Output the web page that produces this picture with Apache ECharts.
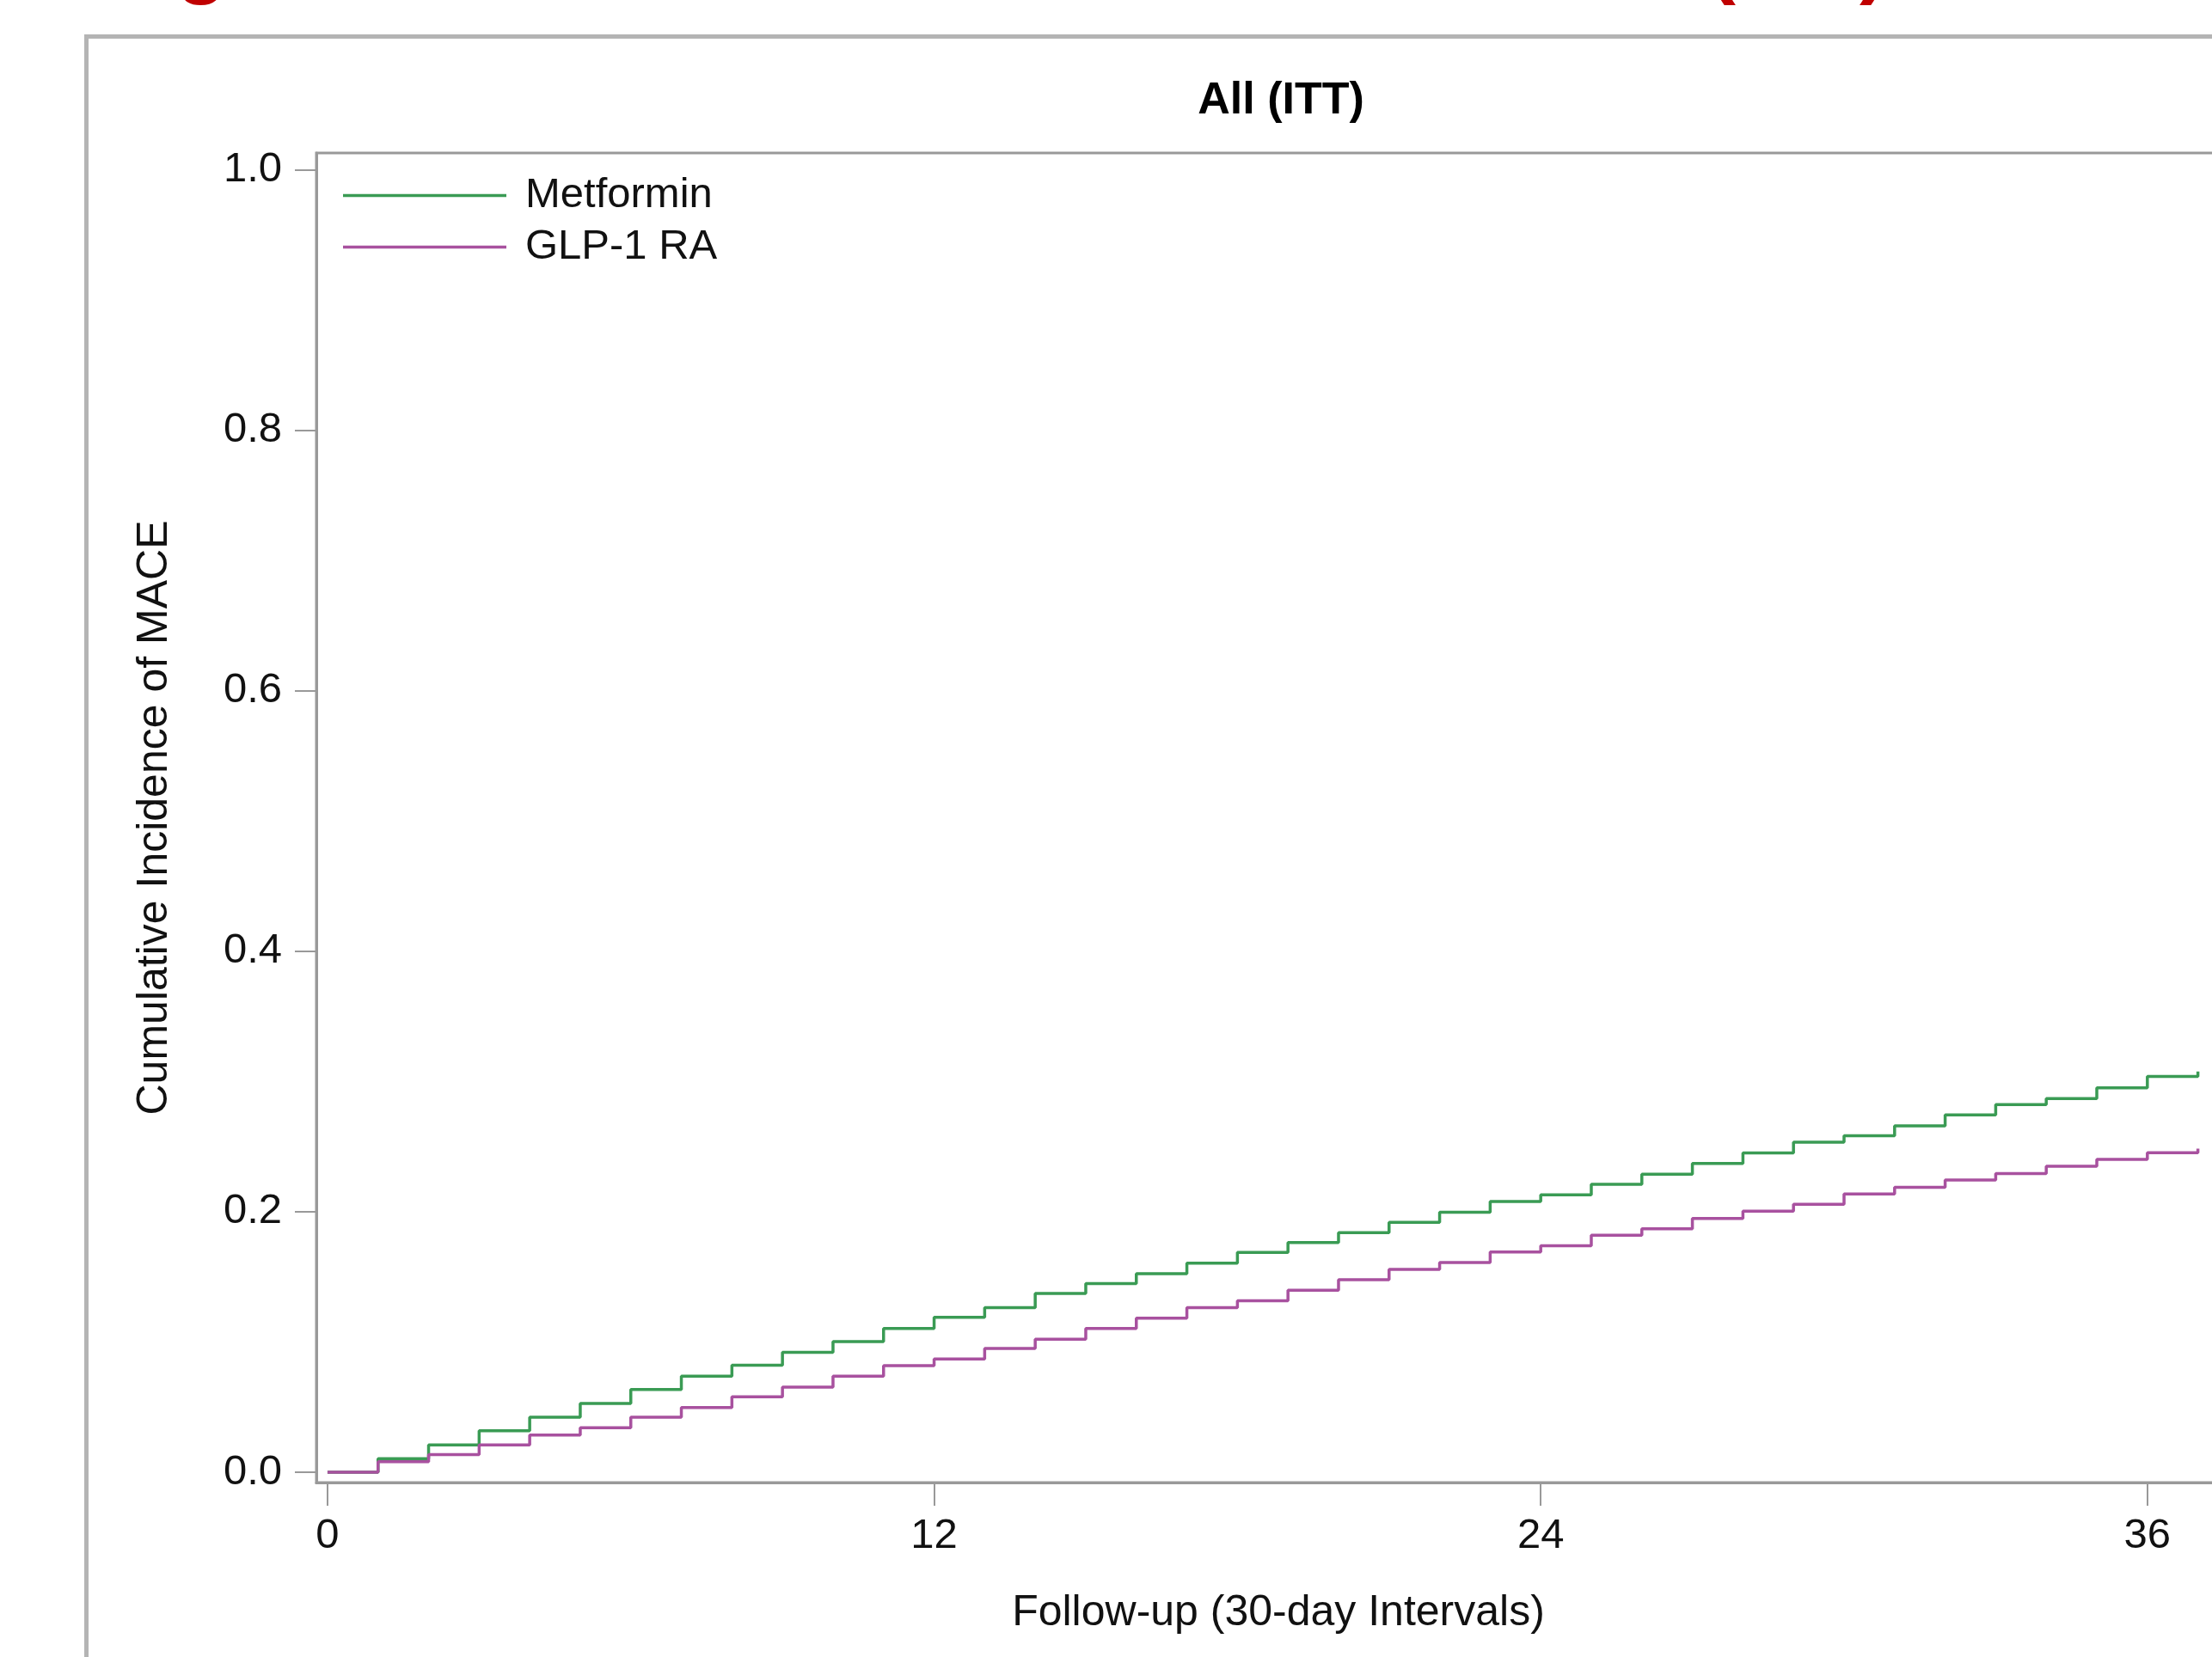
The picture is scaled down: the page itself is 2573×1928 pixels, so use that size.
<!DOCTYPE html>
<html>
<head>
<meta charset="utf-8">
<script src="https://cdn.jsdelivr.net/npm/echarts@6/dist/echarts.min.js"></script>
<style>
html,body{margin:0;padding:0;background:#fff;overflow:hidden;width:2573px;height:1928px;}
#c{width:2900px;height:1928px;}
</style>
</head>
<body>
<div id="c"></div>
<script>
// ---- data ----
const months = [0,1,2,3,4,5,6,7,8,9,10,11,12,13,14,15,16,17,18,19,20,21,22,23,24,25,26,27,28,29,30,31,32,33,34,35,36,37];
const metformin = [0,0.0104,0.0209,0.0319,0.0422,0.0528,0.0635,0.0737,0.0822,0.0921,0.1003,0.1104,0.1189,0.1264,0.1372,0.1449,0.1524,0.1605,0.1688,0.1764,0.1840,0.1918,0.1996,0.2079,0.2130,0.2211,0.2289,0.2370,0.2451,0.2534,0.2584,0.2660,0.2743,0.2822,0.2869,0.2951,0.3039,0.3076];
const glp1 = [0,0.0081,0.0136,0.0209,0.0286,0.0341,0.0422,0.0497,0.0580,0.0653,0.0737,0.0818,0.0869,0.0950,0.1022,0.1104,0.1183,0.1264,0.1317,0.1398,0.1479,0.1557,0.1610,0.1691,0.1739,0.1819,0.1870,0.1948,0.2004,0.2057,0.2137,0.2188,0.2243,0.2294,0.2350,0.2402,0.2453,0.2484];
const seriesNames = ['Metformin','GLP-1 RA'];
const xTicks = [0,12,24,36];
const yTicks = [0,0.2,0.4,0.6,0.8,1.0];
const panelTitle = 'All (ITT)';
const figureTitle = 'Figure 2. Cumulative Incidence of MACE (ITT)';
const xTitle = 'Follow-up (30-day Intervals)';
const yTitle = 'Cumulative Incidence of MACE';

const FONT = '"Liberation Sans", Arial, sans-serif';
const AX = '#999999';
const GREEN = '#3a9b54';
const PURPLE = '#a8519f';
const chart = echarts.init(document.getElementById('c'), null, {renderer:'canvas'});
const pair = (xs, ys) => xs.map((x,i)=>[x, ys[i]]);

chart.setOption({
  animation:false,
  backgroundColor:'#fff',
  textStyle:{fontFamily:FONT},
  graphic:[
    {id:'frame', type:'rect', shape:{x:100.5, y:42.5, width:2700, height:1960}, style:{fill:'none', stroke:'#b4b4b4', lineWidth:5}, z:-10},
    {id:'figtitle', type:'text', x:120, y:-40, style:{text:figureTitle, fontFamily:FONT, fontWeight:'bold', fontSize:96, fill:'#c00000', textAlign:'left', textVerticalAlign:'middle'}},
    {id:'paneltitle', type:'text', x:1490, y:118, style:{text:panelTitle, fontFamily:FONT, fontWeight:'bold', fontSize:52, fill:'#000', textAlign:'center', textVerticalAlign:'middle'}}
  ],
  grid:{left:368, top:178, width:2238, height:1547, show:true, borderColor:AX, borderWidth:3, backgroundColor:'transparent', containLabel:false},
  legend:{
    show:true, orient:'vertical', left:394, top:198, icon:'rect', itemWidth:190, itemHeight:3.5, itemGap:11,
    data:seriesNames,
    textStyle:{fontFamily:FONT, fontSize:49, color:'#111', lineHeight:48, padding:[0,0,0,17]}
  },
  xAxis:{
    type:'value', min:-0.22, max:37.84,
    name:xTitle, nameLocation:'middle', nameGap:127,
    nameTextStyle:{fontFamily:FONT, fontSize:50, color:'#111'},
    axisLine:{show:true, onZero:false, lineStyle:{color:AX, width:3}},
    axisTick:{show:true, length:27, customValues:xTicks, lineStyle:{color:AX, width:2}},
    axisLabel:{show:true, margin:38, customValues:xTicks, fontFamily:FONT, fontSize:49, color:'#111', formatter:v=>String(v)},
    splitLine:{show:false}
  },
  yAxis:{
    type:'value', min:-0.0079, max:1.0129,
    name:yTitle, nameLocation:'middle', nameGap:163, nameRotate:90,
    nameTextStyle:{fontFamily:FONT, fontSize:50, color:'#111'},
    axisLine:{show:true, onZero:false, lineStyle:{color:AX, width:3}},
    axisTick:{show:true, length:25, customValues:yTicks, lineStyle:{color:AX, width:2}},
    axisLabel:{show:true, margin:40, customValues:yTicks, fontFamily:FONT, fontSize:49, color:'#111', formatter:v=>v.toFixed(1)},
    splitLine:{show:false}
  },
  series:[
    {name:seriesNames[0], type:'line', step:'end', symbol:'none', data:pair(months, metformin), lineStyle:{color:GREEN, width:3.5}, itemStyle:{color:GREEN}},
    {name:seriesNames[1], type:'line', step:'end', symbol:'none', data:pair(months, glp1), lineStyle:{color:PURPLE, width:3.5}, itemStyle:{color:PURPLE}}
  ]
});
</script>
</body>
</html>
